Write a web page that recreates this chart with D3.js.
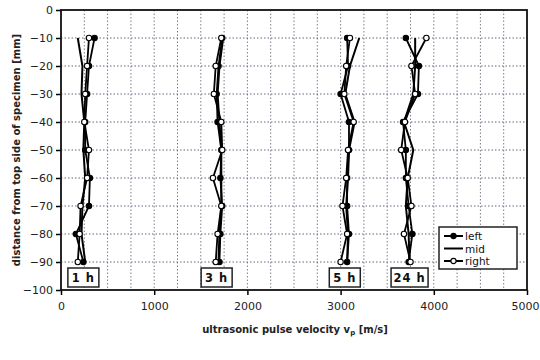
<!DOCTYPE html>
<html><head><meta charset="utf-8">
<script src="https://cdn.jsdelivr.net/npm/d3@7"></script>
<style>body{margin:0;background:#fff}svg{display:block}</style>
</head><body><svg id="c" width="540" height="360"></svg>
<script>
const depths = [-10,-20,-30,-40,-50,-60,-70,-80,-90];
const seriesNames = ["left","mid","right"];
const groups = ["1 h","3 h","5 h","24 h"];
const left1 = [360,300,280,260,260,310,300,160,240];
const mid1 = [180,230,220,250,240,260,230,220,260];
const right1 = [300,280,260,250,300,280,210,200,180];
const left3 = [1730,1690,1670,1680,1720,1710,1730,1710,1700];
const mid3 = [1740,1700,1680,1700,1720,1720,1720,1700,1690];
const right3 = [1720,1660,1640,1720,1730,1630,1720,1680,1660];
const left5 = [3070,3080,3000,3090,3090,3070,3070,3090,3070];
const mid5 = [3200,3100,3050,3150,3090,3080,3060,3080,3070];
const right5 = [3100,3060,3040,3140,3080,3060,3020,3070,3000];
const left24 = [3700,3840,3830,3670,3700,3700,3730,3770,3730];
const mid24 = [3800,3800,3780,3680,3780,3720,3700,3730,3740];
const right24 = [3920,3760,3800,3690,3650,3720,3760,3680,3750];
const labelPos = [240,1670,3045,3740];
const xTicks = [0,1000,2000,3000,4000,5000];
const yTicks = [0,-10,-20,-30,-40,-50,-60,-70,-80,-90,-100];

const data = [
  {left:left1, mid:mid1, right:right1},
  {left:left3, mid:mid3, right:right3},
  {left:left5, mid:mid5, right:right5},
  {left:left24, mid:mid24, right:right24}
];

const svg = d3.select("#c");
const L=61, R=527, T=10, B=290;
const x = d3.scaleLinear().domain([0,5000]).range([L,R]);
const y = d3.scaleLinear().domain([-100,0]).range([B,T]);
const font = "DejaVu Sans, Verdana, sans-serif";

// grid
const g = svg.append("g");
g.selectAll(".vg").data(d3.range(250,5000,250)).enter().append("line")
  .attr("x1",d=>x(d)).attr("x2",d=>x(d)).attr("y1",T).attr("y2",B)
  .attr("stroke","#7a7f8a").attr("stroke-width",1).attr("stroke-dasharray","1.5,2");
g.selectAll(".hg").data(d3.range(-90,0,10)).enter().append("line")
  .attr("y1",d=>y(d)).attr("y2",d=>y(d)).attr("x1",L).attr("x2",R)
  .attr("stroke","#5f6a80").attr("stroke-width",1).attr("stroke-dasharray","1.5,2");

// axes
const xa = svg.append("g").attr("transform",`translate(0,${B})`)
  .call(d3.axisBottom(x).tickValues(xTicks).tickFormat(d3.format("d")).tickSize(5).tickPadding(7));
const ya = svg.append("g").attr("transform",`translate(${L},0)`)
  .call(d3.axisLeft(y).tickValues(yTicks).tickFormat(d3.format("d")).tickSize(5).tickPadding(3));
[xa,ya].forEach(a=>{
  a.select(".domain").remove();
  a.selectAll("text").attr("font-family",font).attr("font-size",11).attr("fill","#222");
  a.selectAll("line").attr("stroke","#000").attr("stroke-width",1.5);
});
xa.selectAll("text").filter(d=>d===5000).attr("dx",-2);

// frame
svg.append("rect").attr("x",L).attr("y",T).attr("width",R-L).attr("height",B-T)
  .attr("fill","none").attr("stroke","#111").attr("stroke-width",1.8);

// lines
const line = d3.line().x(d=>x(d[0])).y(d=>y(d[1]));
data.forEach(s=>{
  seriesNames.forEach(n=>{
    const pts = s[n].map((v,i)=>[v,depths[i]]);
    svg.append("path").attr("d",line(pts)).attr("fill","none")
      .attr("stroke","#000").attr("stroke-width",n==="mid"?2:1.8);
    if(n!=="mid"){
      svg.selectAll(null).data(pts).enter().append("circle")
        .attr("cx",d=>x(d[0])).attr("cy",d=>y(d[1])).attr("r",2.7)
        .attr("fill",n==="left"?"#000":"#fff").attr("stroke","#000").attr("stroke-width",1.1);
    }
  });
});

// group labels
groups.forEach((t,i)=>{
  const cx = x(labelPos[i]);
  const w = t.length>3?37:31;
  svg.append("rect").attr("x",cx-w/2).attr("y",268).attr("width",w).attr("height",19)
    .attr("fill","#fff").attr("stroke","#222").attr("stroke-width",1.5);
  svg.append("text").attr("x",cx).attr("y",282).attr("text-anchor","middle")
    .attr("font-family",font).attr("font-weight","bold").attr("font-size",11.5)
    .attr("letter-spacing",1).attr("fill","#111").text(t);
});

// legend
const lg = svg.append("g");
lg.append("rect").attr("x",439).attr("y",227).attr("width",78).attr("height",42)
  .attr("fill","#fff").attr("stroke","#222").attr("stroke-width",1.5);
seriesNames.forEach((n,i)=>{
  const yy = 236 + i*12.5;
  lg.append("line").attr("x1",444).attr("x2",463).attr("y1",yy).attr("y2",yy)
    .attr("stroke","#000").attr("stroke-width",2);
  if(n!=="mid") lg.append("circle").attr("cx",453.5).attr("cy",yy).attr("r",2.6)
    .attr("fill",n==="left"?"#000":"#fff").attr("stroke","#000").attr("stroke-width",1.1);
  lg.append("text").attr("x",465).attr("y",yy+4).attr("font-family",font)
    .attr("font-size",10.5).attr("fill","#111").text(n);
});

// axis titles
const xt = svg.append("text").attr("x",295).attr("y",333).attr("text-anchor","middle")
  .attr("font-family",font).attr("font-weight","bold").attr("font-size",10).attr("fill","#222");
xt.append("tspan").text("ultrasonic pulse velocity v");
xt.append("tspan").attr("font-size",7).attr("dy",2).text("p");
xt.append("tspan").attr("dy",-2).text(" [m/s]");
svg.append("text").attr("transform","translate(20,150) rotate(-90)").attr("text-anchor","middle")
  .attr("font-family",font).attr("font-weight","bold").attr("font-size",10).attr("fill","#222")
  .text("distance from top side of specimen [mm]");
</script></body></html>
